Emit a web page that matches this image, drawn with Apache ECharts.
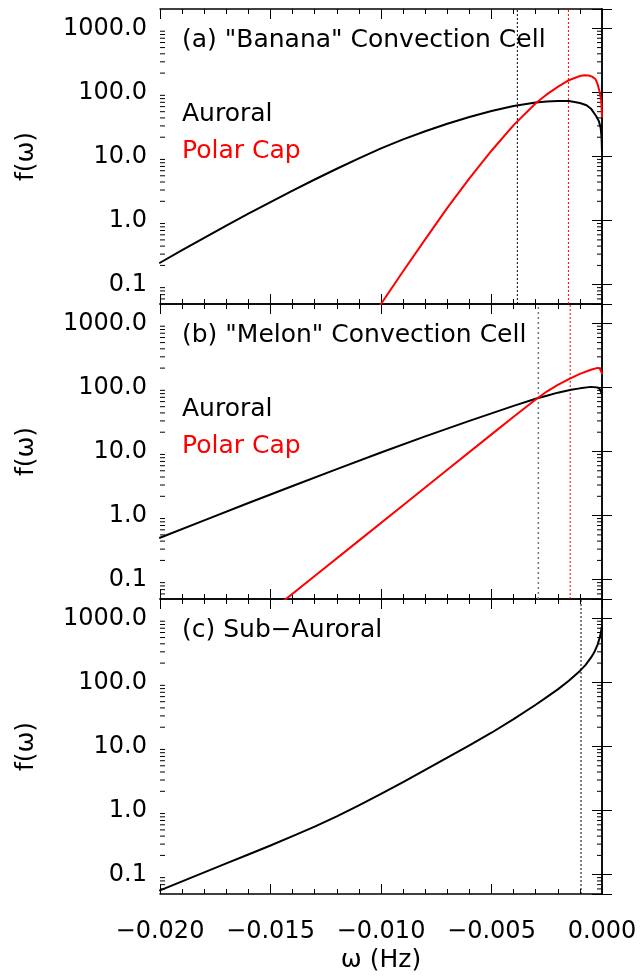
<!DOCTYPE html>
<html>
<head>
<meta charset="utf-8">
<script src="https://cdn.jsdelivr.net/npm/echarts@6/dist/echarts.min.js"></script>
<style>
  html, body { margin: 0; padding: 0; background: #fff; }
  #chart { width: 642px; height: 976px; }
</style>
</head>
<body>
<div id="chart"></div>
<script>
// (a) "Banana" convection cell
const omegaAuroralA = [-0.020, -0.019, -0.018, -0.017, -0.016, -0.015, -0.014, -0.013, -0.012, -0.011,
  -0.010, -0.009, -0.008, -0.007, -0.006, -0.005, -0.004, -0.003, -0.0025, -0.002, -0.0015, -0.001,
  -0.0007, -0.0005, -0.00026, -0.00014, -0.00006, -0.00002, 0];
const auroralA = [0.220, 0.346, 0.540, 0.836, 1.28, 1.95, 2.94, 4.38, 6.44, 9.35,
  13.4, 18.5, 24.8, 32.4, 41.3, 51.3, 61.4, 69.5, 72.0, 73.5, 73.3, 68.2,
  63.1, 55.7, 42.4, 35.5, 27.9, 20.0, 12.1];
const omegaPolarA = [-0.0105, -0.0100, -0.0090, -0.0080, -0.0070, -0.0060, -0.0050, -0.0040, -0.0030,
  -0.0025, -0.0020, -0.0015, -0.0010, -0.0008, -0.0006, -0.00045, -0.0003, -0.0002, -0.0001, -0.00003, 0];
const polarA = [0.028, 0.05, 0.162, 0.51, 1.58, 4.57, 12.3, 30.9, 67.6,
  93, 122, 155, 180, 185, 183, 176, 162, 135, 100, 72, 42];
const markA = { auroral: -0.00383, polar: -0.00152 };

// (b) "Melon" convection cell
const omegaAuroralB = [-0.020, -0.018, -0.016, -0.014, -0.012, -0.010, -0.008, -0.006, -0.004, -0.003,
  -0.0025, -0.002, -0.0014, -0.001, -0.0005, -0.0002, -0.0001, 0];
const auroralB = [0.451, 0.843, 1.57, 2.90, 5.32, 9.64, 17.2, 30.1, 51.5, 66.4,
  74.3, 82.8, 91.6, 96.6, 101.9, 100, 94.4, 78.5];
const omegaPolarB = [-0.015, -0.013, -0.011, -0.009, -0.007, -0.005, -0.004, -0.003, -0.0025,
  -0.002, -0.0015, -0.001, -0.0005, -0.0002, -0.0001, 0];
const polarB = [0.0321, 0.114, 0.407, 1.45, 5.18, 18.5, 34.8, 64.6, 86.1,
  109.6, 134.9, 162.2, 188.4, 201.8, 197, 166.0];
const markB = { auroral: -0.00288, polar: -0.00144 };

// (c) Sub-auroral
const omegaSubC = [-0.020, -0.019, -0.018, -0.017, -0.016, -0.015, -0.014, -0.013, -0.012, -0.011,
  -0.010, -0.009, -0.008, -0.007, -0.006, -0.005, -0.004, -0.003, -0.0025, -0.002,
  -0.0015, -0.001, -0.00075, -0.0005, -0.00035, -0.0002, -0.0001, -0.00005, 0];
const subC = [0.057, 0.0787, 0.109, 0.150, 0.207, 0.286, 0.399, 0.564, 0.815, 1.205,
  1.82, 2.79, 4.33, 6.70, 10.4, 16.4, 26.7, 44.8, 58.9, 77.8,
  106, 151, 186, 243, 295, 389, 501, 603, 759];
const markC = -0.00095;

const FONT = 'DejaVu Sans';
const FS_AXIS = 24;
const FS_TEXT = 25;
const X_MIN = -0.020, X_MAX = 0, Y_MIN = 0.05, Y_MAX = 2000;

// minor ticks of the log axis (2..9 within each decade)
const minorLogTicks = [];
for (let e = -2; e <= 3; e++) {
  for (let m = 2; m <= 9; m++) {
    const v = m * Math.pow(10, e);
    if (v > Y_MIN && v < Y_MAX) minorLogTicks.push(v);
  }
}

function pairs(xs, ys) {
  return xs.map((x, i) => [x, ys[i]]);
}

const panelTop = [9, 304, 599];
const panelH = 295;

const grid = [], xAxis = [], yAxis = [], series = [], title = [];

panelTop.forEach((top, i) => {
  grid.push({ left: 160, right: 40, top: top, height: panelH });
  const last = i === 2;
  const xBase = {
    type: 'value', gridIndex: i, min: X_MIN, max: X_MAX, interval: 0.005,
    axisLine: { show: true, lineStyle: { color: '#000', width: 1.5 } },
    axisTick: { show: true, inside: true, length: 10, lineStyle: { color: '#000', width: 1 } },
    minorTick: { show: true, splitNumber: 5, length: 5, lineStyle: { color: '#000', width: 1 } },
    splitLine: { show: false }
  };
  xAxis.push(Object.assign({}, xBase, {
    position: 'bottom',
    axisLabel: {
      show: last, margin: 26, fontFamily: FONT, fontSize: FS_AXIS, color: '#000',
      formatter: v => (v < -1e-9 ? '\u2212' : '') + Math.abs(v).toFixed(3)
    },
    name: last ? '\u03c9 (Hz)' : '', nameLocation: 'middle', nameGap: 54,
    nameTextStyle: { fontFamily: FONT, fontSize: FS_TEXT, color: '#000' }
  }));
  xAxis.push(Object.assign({}, xBase, { position: 'top', axisLabel: { show: false } }));

  const yBase = {
    type: 'log', logBase: 10, gridIndex: i, min: Y_MIN, max: Y_MAX,
    axisLine: { show: true, lineStyle: { color: '#000', width: 1.5 } },
    axisTick: { show: true, inside: true, length: 10, lineStyle: { color: '#000', width: 1 } },
    splitLine: { show: false }
  };
  yAxis.push(Object.assign({}, yBase, {
    position: 'left',
    axisLabel: {
      margin: 13, fontFamily: FONT, fontSize: FS_AXIS, color: '#000',
      formatter: v => {
        const l = Math.log10(v);
        return Math.abs(l - Math.round(l)) < 1e-6 ? v.toFixed(1) : '';
      }
    },
    name: 'f(\u03c9)', nameLocation: 'middle', nameGap: 121,
    nameTextStyle: { fontFamily: FONT, fontSize: FS_TEXT, color: '#000' }
  }));
  yAxis.push(Object.assign({}, yBase, { position: 'right', axisLabel: { show: false } }));

  // log minor ticks on both sides
  series.push({
    type: 'custom', xAxisIndex: 2 * i, yAxisIndex: 2 * i, silent: true,
    data: minorLogTicks.map(v => [X_MIN, v]),
    renderItem: (params, api) => {
      const cs = params.coordSys;
      const y = api.coord([X_MIN, api.value(1)])[1];
      const st = { stroke: '#000', lineWidth: 1 };
      return {
        type: 'group', children: [
          { type: 'line', shape: { x1: cs.x, y1: y, x2: cs.x + 5, y2: y }, style: st },
          { type: 'line', shape: { x1: cs.x + cs.width - 5, y1: y, x2: cs.x + cs.width, y2: y }, style: st }
        ]
      };
    }
  });
});

// vertical dotted marker, drawn as a two-point line through the axes
function vline(idx, x, color, width, dash) {
  return {
    type: 'line', xAxisIndex: 2 * idx, yAxisIndex: 2 * idx, silent: true,
    data: [[x, Y_MIN], [x, Y_MAX]], showSymbol: false,
    lineStyle: { color: color, width: width, type: dash }, z: 2
  };
}

function curve(idx, data, color) {
  return {
    type: 'line', xAxisIndex: 2 * idx, yAxisIndex: 2 * idx,
    data: data, showSymbol: false, smooth: false,
    lineStyle: { color: color, width: 2, join: 'round', cap: 'round' },
    itemStyle: { color: color }, z: 3
  };
}

series.push(vline(0, markA.auroral, '#000', 1, [2, 2]));
series.push(vline(0, markA.polar, '#ff0000', 1, [2, 2]));
series.push(vline(1, markB.auroral, '#777', 1.5, [2, 3]));
series.push(vline(1, markB.polar, '#ff0000', 1, [2, 2]));
series.push(vline(2, markC, '#000', 1, [2, 2]));
series.push(curve(0, pairs(omegaAuroralA, auroralA), '#000'));
series.push(curve(0, pairs(omegaPolarA, polarA), '#ff0000'));
series.push(curve(1, pairs(omegaAuroralB, auroralB), '#000'));
series.push(curve(1, pairs(omegaPolarB, polarB), '#ff0000'));
series.push(curve(2, pairs(omegaSubC, subC), '#000'));

const txt = (text, left, top, color) => ({
  text: text, left: left, top: top, padding: 0,
  textStyle: { fontFamily: FONT, fontSize: FS_TEXT, fontWeight: 'normal', color: color }
});
title.push(txt('(a) "Banana" Convection Cell', 182, 28, '#000'));
title.push(txt('Auroral', 182, 102, '#000'));
title.push(txt('Polar Cap', 182, 139, '#ff0000'));
title.push(txt('(b) "Melon" Convection Cell', 182, 323, '#000'));
title.push(txt('Auroral', 182, 397, '#000'));
title.push(txt('Polar Cap', 182, 434, '#ff0000'));
title.push(txt('(c) Sub\u2212Auroral', 182, 618, '#000'));

const chart = echarts.init(document.getElementById('chart'), null, { renderer: 'canvas' });
chart.setOption({
  animation: false,
  backgroundColor: '#fff',
  title: title,
  grid: grid,
  xAxis: xAxis,
  yAxis: yAxis,
  series: series
});
</script>
</body>
</html>
